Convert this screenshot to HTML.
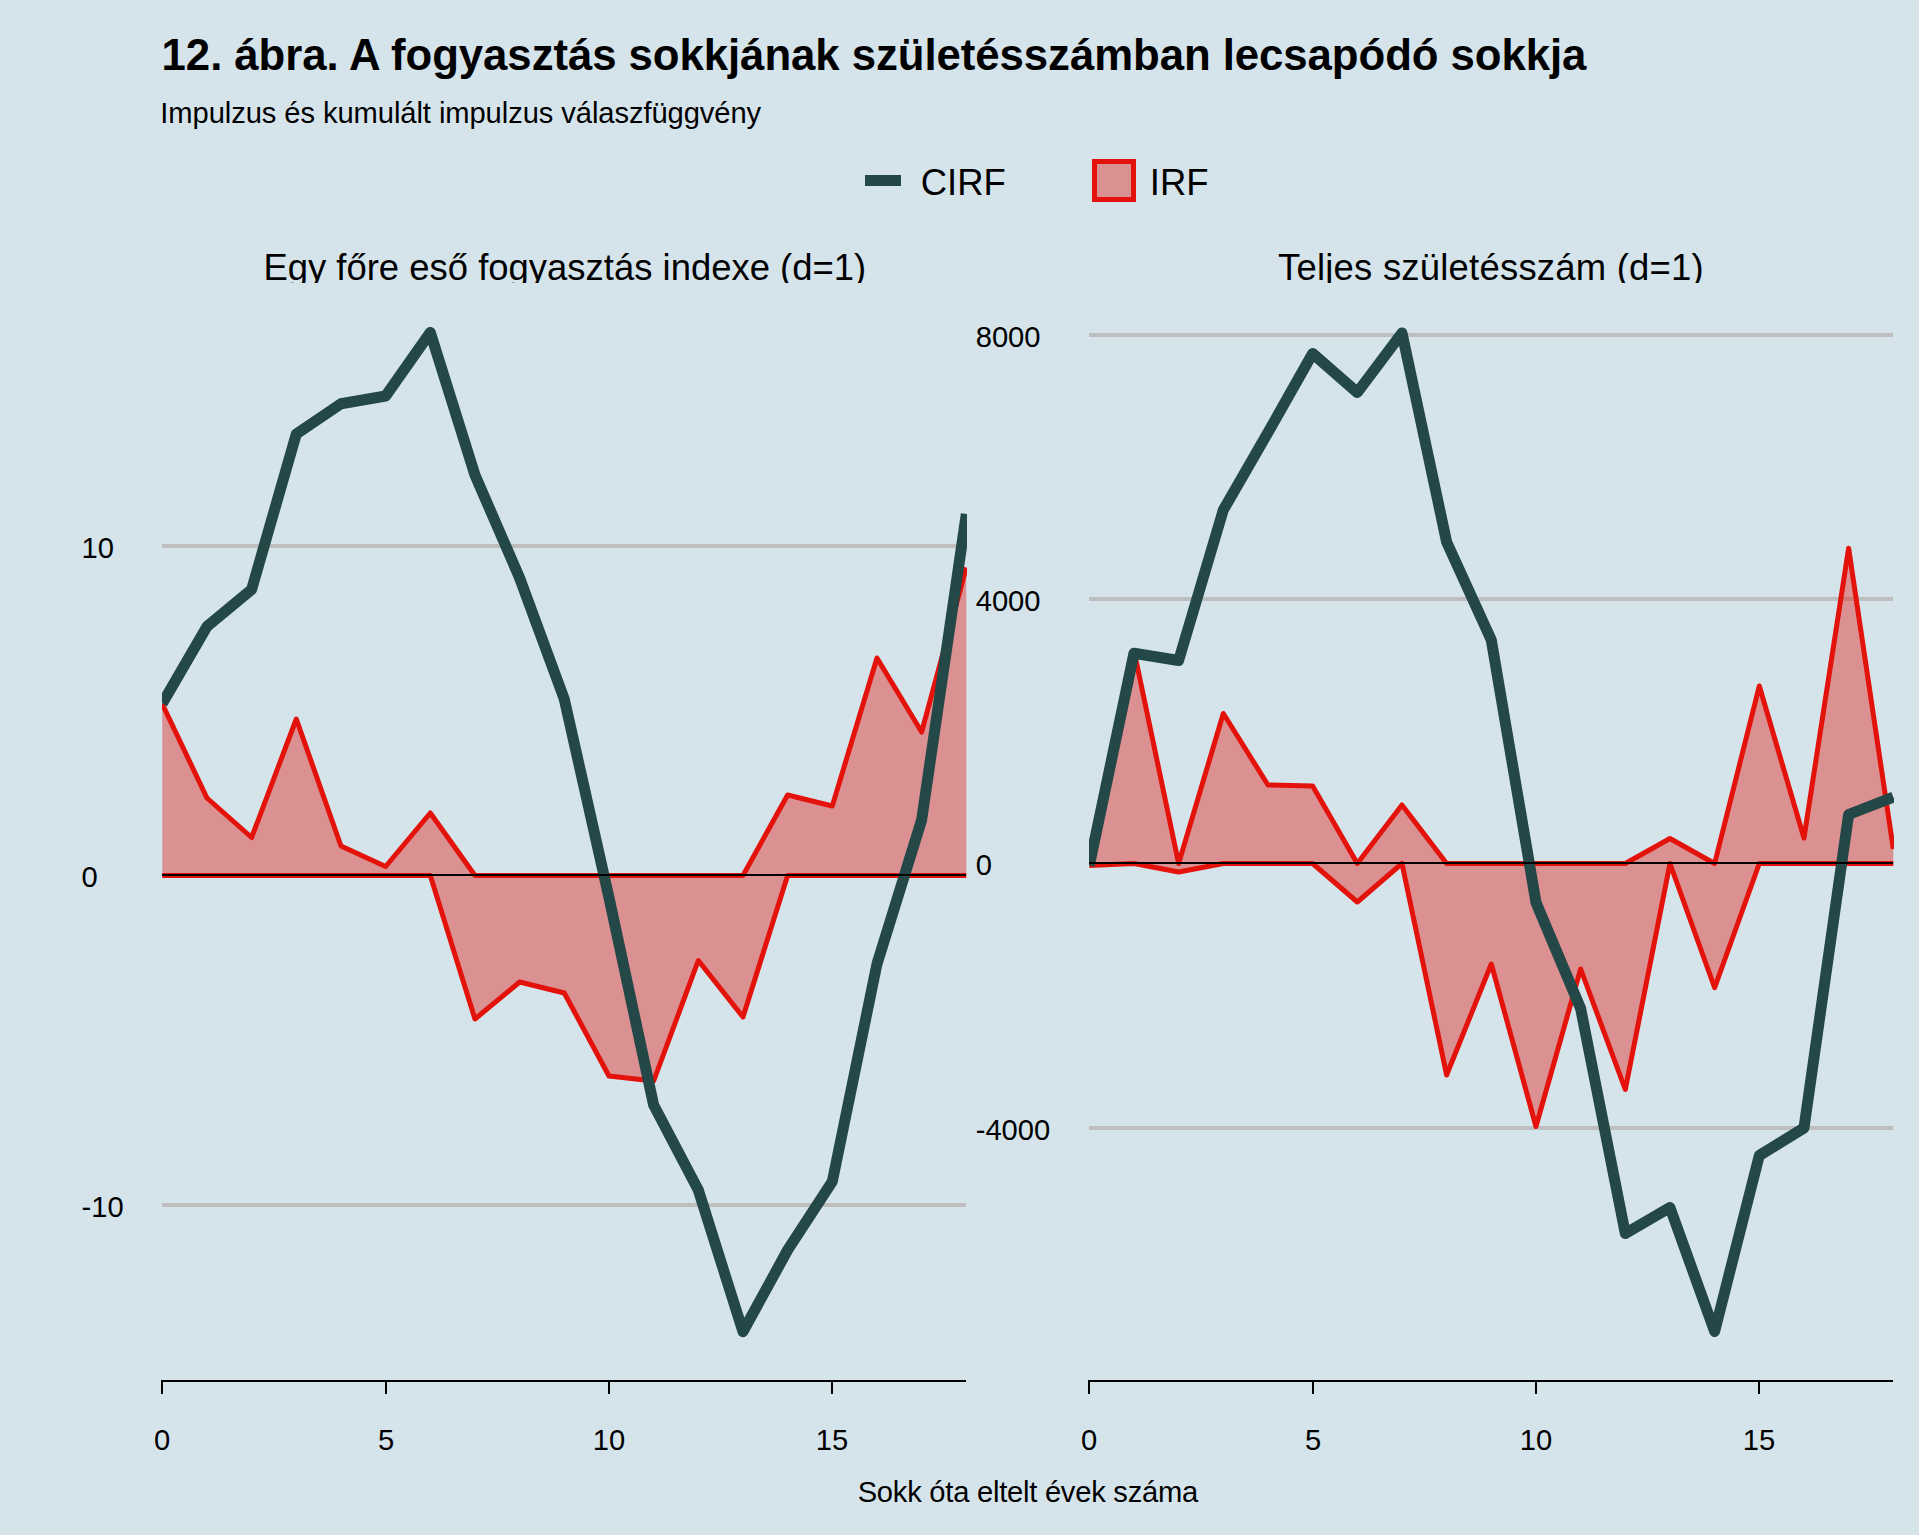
<!DOCTYPE html>
<html lang="hu">
<head>
<meta charset="utf-8">
<title>12. ábra</title>
<style>
html,body{margin:0;padding:0;background:#d5e4eb;}
body{width:1920px;height:1536px;overflow:hidden;font-family:"Liberation Sans",sans-serif;}
svg{display:block;}
</style>
</head>
<body>
<svg width="1920" height="1536" viewBox="0 0 1920 1536" font-family="'Liberation Sans', sans-serif" fill="#000">
<rect x="0" y="0" width="1920" height="1536" fill="#ffffff"/>
<rect x="0" y="0" width="1919" height="1535" fill="#d5e4eb"/>
<text x="161.6" y="70" letter-spacing="-0.065" font-size="43.75" font-weight="bold">12. ábra. A fogyasztás sokkjának születésszámban lecsapódó sokkja</text>
<text x="160.3" y="122.6" letter-spacing="-0.083" font-size="29.17">Impulzus és kumulált impulzus válaszfüggvény</text>
<rect x="865" y="175" width="36" height="11" fill="#244747"/>
<text x="920.7" y="195" font-size="36.46">CIRF</text>
<rect x="1094.5" y="161.5" width="39" height="38" fill="#e3120b" fill-opacity="0.4" stroke="none"/>
<rect x="1094.5" y="161.5" width="39" height="38" fill="none" stroke="#e3120b" stroke-width="5"/>
<text x="1149.8" y="195" font-size="36.46">IRF</text>
<clipPath id="strip"><rect x="0" y="230" width="1920" height="53"/></clipPath>
<g clip-path="url(#strip)">
<text x="564.8" y="280" text-anchor="middle" font-size="36.46">Egy főre eső fogyasztás indexe (d=1)</text>
<text x="1491" y="280" letter-spacing="0.22" text-anchor="middle" font-size="36.46">Teljes születésszám (d=1)</text>
</g>
<text x="81.5" y="558.30" font-size="29.17">10</text>
<text x="81.5" y="887.30" font-size="29.17">0</text>
<text x="81.5" y="1217.00" font-size="29.17">-10</text>
<text x="975.7" y="347.30" font-size="29.17">8000</text>
<text x="975.7" y="611.30" font-size="29.17">4000</text>
<text x="975.7" y="875.30" font-size="29.17">0</text>
<text x="975.7" y="1140.20" font-size="29.17">-4000</text>
<clipPath id="cp1"><rect x="162" y="300" width="805" height="1080"/></clipPath>
<g clip-path="url(#cp1)">
<line x1="162" x2="966" y1="546.00" y2="546.00" stroke="#bebebe" stroke-width="4" shape-rendering="crispEdges"/>
<line x1="162" x2="966" y1="1205.00" y2="1205.00" stroke="#bebebe" stroke-width="4" shape-rendering="crispEdges"/>
<polygon points="162.30,704.00 206.97,798.00 251.63,837.50 296.30,719.00 340.97,846.00 385.63,866.50 430.30,813.00 474.97,875.50 519.63,875.50 564.30,875.50 608.97,875.50 653.63,875.50 698.30,875.50 742.97,875.50 787.63,795.00 832.30,806.00 876.97,658.00 921.63,732.00 966.30,567.50 966.30,875.50 921.63,875.50 876.97,875.50 832.30,875.50 787.63,875.50 742.97,1017.00 698.30,960.50 653.63,1081.00 608.97,1076.00 564.30,993.00 519.63,982.00 474.97,1019.00 430.30,875.50 385.63,875.50 340.97,875.50 296.30,875.50 251.63,875.50 206.97,875.50 162.30,875.50" fill="#e3120b" fill-opacity="0.4"/>
<polyline points="162.30,704.00 206.97,798.00 251.63,837.50 296.30,719.00 340.97,846.00 385.63,866.50 430.30,813.00 474.97,875.50 519.63,875.50 564.30,875.50 608.97,875.50 653.63,875.50 698.30,875.50 742.97,875.50 787.63,795.00 832.30,806.00 876.97,658.00 921.63,732.00 966.30,567.50" fill="none" stroke="#e3120b" stroke-width="5" stroke-linejoin="round"/>
<polyline points="162.30,875.50 206.97,875.50 251.63,875.50 296.30,875.50 340.97,875.50 385.63,875.50 430.30,875.50 474.97,1019.00 519.63,982.00 564.30,993.00 608.97,1076.00 653.63,1081.00 698.30,960.50 742.97,1017.00 787.63,875.50 832.30,875.50 876.97,875.50 921.63,875.50 966.30,875.50" fill="none" stroke="#e3120b" stroke-width="5" stroke-linejoin="round"/>
<polyline points="162.30,703.50 206.97,626.50 251.63,589.50 296.30,434.00 340.97,403.75 385.63,396.00 430.30,332.50 474.97,475.00 519.63,578.00 564.30,699.20 608.97,897.50 653.63,1105.00 698.30,1190.00 742.97,1331.70 787.63,1250.00 832.30,1181.50 876.97,964.00 921.63,820.00 966.30,514.00" fill="none" stroke="#244747" stroke-width="11" stroke-linejoin="round"/>
<line x1="162" x2="966" y1="875" y2="875" stroke="#000" stroke-width="2" shape-rendering="crispEdges"/>
</g>
<line x1="161" x2="966" y1="1381" y2="1381" stroke="#000" stroke-width="2" shape-rendering="crispEdges"/>
<line x1="162.00" x2="162.00" y1="1381" y2="1394" stroke="#000" stroke-width="2" shape-rendering="crispEdges"/>
<text x="162.00" y="1449.5" text-anchor="middle" font-size="29.17">0</text>
<line x1="386.00" x2="386.00" y1="1381" y2="1394" stroke="#000" stroke-width="2" shape-rendering="crispEdges"/>
<text x="386.00" y="1449.5" text-anchor="middle" font-size="29.17">5</text>
<line x1="609.00" x2="609.00" y1="1381" y2="1394" stroke="#000" stroke-width="2" shape-rendering="crispEdges"/>
<text x="609.00" y="1449.5" text-anchor="middle" font-size="29.17">10</text>
<line x1="832.00" x2="832.00" y1="1381" y2="1394" stroke="#000" stroke-width="2" shape-rendering="crispEdges"/>
<text x="832.00" y="1449.5" text-anchor="middle" font-size="29.17">15</text>
<clipPath id="cp2"><rect x="1089" y="300" width="805" height="1080"/></clipPath>
<g clip-path="url(#cp2)">
<line x1="1089" x2="1893" y1="335.00" y2="335.00" stroke="#bebebe" stroke-width="4" shape-rendering="crispEdges"/>
<line x1="1089" x2="1893" y1="599.00" y2="599.00" stroke="#bebebe" stroke-width="4" shape-rendering="crispEdges"/>
<line x1="1089" x2="1893" y1="1128.00" y2="1128.00" stroke="#bebebe" stroke-width="4" shape-rendering="crispEdges"/>
<polygon points="1089.30,863.50 1133.97,650.50 1178.63,863.50 1223.30,713.50 1267.97,785.00 1312.63,786.00 1357.30,863.50 1401.97,805.00 1446.63,863.50 1491.30,863.50 1535.97,863.50 1580.63,863.50 1625.30,863.50 1669.97,838.50 1714.63,863.50 1759.30,686.00 1803.97,838.00 1848.63,548.20 1893.30,849.00 1893.30,863.50 1848.63,863.50 1803.97,863.50 1759.30,863.50 1714.63,987.75 1669.97,863.50 1625.30,1089.50 1580.63,969.00 1535.97,1126.50 1491.30,964.00 1446.63,1075.00 1401.97,863.50 1357.30,902.00 1312.63,863.50 1267.97,863.50 1223.30,863.50 1178.63,872.00 1133.97,863.50 1089.30,865.50" fill="#e3120b" fill-opacity="0.4"/>
<polyline points="1089.30,863.50 1133.97,650.50 1178.63,863.50 1223.30,713.50 1267.97,785.00 1312.63,786.00 1357.30,863.50 1401.97,805.00 1446.63,863.50 1491.30,863.50 1535.97,863.50 1580.63,863.50 1625.30,863.50 1669.97,838.50 1714.63,863.50 1759.30,686.00 1803.97,838.00 1848.63,548.20 1893.30,849.00" fill="none" stroke="#e3120b" stroke-width="5" stroke-linejoin="round"/>
<polyline points="1089.30,865.50 1133.97,863.50 1178.63,872.00 1223.30,863.50 1267.97,863.50 1312.63,863.50 1357.30,902.00 1401.97,863.50 1446.63,1075.00 1491.30,964.00 1535.97,1126.50 1580.63,969.00 1625.30,1089.50 1669.97,863.50 1714.63,987.75 1759.30,863.50 1803.97,863.50 1848.63,863.50 1893.30,863.50" fill="none" stroke="#e3120b" stroke-width="5" stroke-linejoin="round"/>
<polyline points="1089.30,865.50 1133.97,653.25 1178.63,660.50 1223.30,510.00 1267.97,432.50 1312.63,353.50 1357.30,392.50 1401.97,333.00 1446.63,542.00 1491.30,640.00 1535.97,902.50 1580.63,1008.50 1625.30,1233.50 1669.97,1207.50 1714.63,1331.50 1759.30,1155.50 1803.97,1128.00 1848.63,814.50 1893.30,797.00" fill="none" stroke="#244747" stroke-width="11" stroke-linejoin="round"/>
<line x1="1089" x2="1893" y1="863" y2="863" stroke="#000" stroke-width="2" shape-rendering="crispEdges"/>
</g>
<line x1="1088" x2="1893" y1="1381" y2="1381" stroke="#000" stroke-width="2" shape-rendering="crispEdges"/>
<line x1="1089.00" x2="1089.00" y1="1381" y2="1394" stroke="#000" stroke-width="2" shape-rendering="crispEdges"/>
<text x="1089.00" y="1449.5" text-anchor="middle" font-size="29.17">0</text>
<line x1="1313.00" x2="1313.00" y1="1381" y2="1394" stroke="#000" stroke-width="2" shape-rendering="crispEdges"/>
<text x="1313.00" y="1449.5" text-anchor="middle" font-size="29.17">5</text>
<line x1="1536.00" x2="1536.00" y1="1381" y2="1394" stroke="#000" stroke-width="2" shape-rendering="crispEdges"/>
<text x="1536.00" y="1449.5" text-anchor="middle" font-size="29.17">10</text>
<line x1="1759.00" x2="1759.00" y1="1381" y2="1394" stroke="#000" stroke-width="2" shape-rendering="crispEdges"/>
<text x="1759.00" y="1449.5" text-anchor="middle" font-size="29.17">15</text>
<text x="1027.8" y="1501.8" letter-spacing="-0.25" text-anchor="middle" font-size="29.17">Sokk óta eltelt évek száma</text>
</svg>
</body>
</html>
